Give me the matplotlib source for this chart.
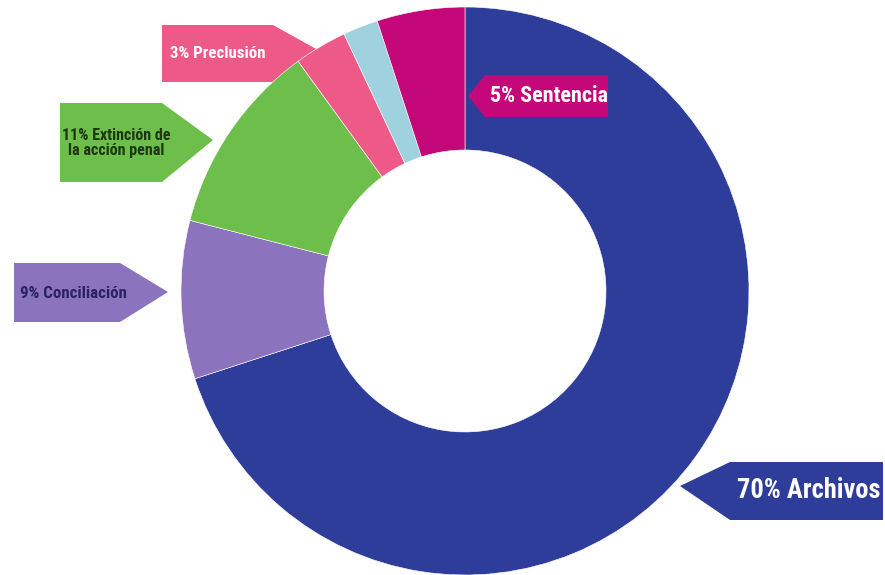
import matplotlib
matplotlib.use("Agg")
import matplotlib.pyplot as plt
from matplotlib import font_manager
from matplotlib.patches import Polygon

# data
categories = ["Archivos", "Conciliación", "Extinción de la acción penal",
              "Preclusión", "Otros", "Sentencia"]
shares = [70, 9, 11, 3, 2, 5]
colors = ["#2E3C9A", "#8B73BE", "#6DBE4B", "#EE5A87", "#9FD2DE", "#C4087A"]

label_texts = ["70% Archivos", "9% Conciliación", "11% Extinción de\nla acción penal",
               "3% Preclusión", None, "5% Sentencia"]
text_colors = ["white", "#2A2360", "#1E3713", "white", None, "white"]

W, H = 885, 575
fig = plt.figure(figsize=(W / 100, H / 100), dpi=100)
ax = fig.add_axes([0, 0, 1, 1])

# donut, in pixel units (y measured from bottom)
cx, cy = 465, H - 291
ax.pie(shares, colors=colors, startangle=90, counterclock=False,
       radius=284, center=(cx, cy),
       wedgeprops=dict(width=143, edgecolor="white", linewidth=0.4))
ax.set_xlim(0, W)
ax.set_ylim(0, H)
ax.set_aspect("equal")
ax.axis("off")

# pick a narrow face if one is installed
names = {f.name for f in font_manager.fontManager.ttflist}
narrow = [n for n in ["Liberation Sans Narrow", "Roboto Condensed",
                      "Open Sans Condensed", "DejaVu Sans Condensed",
                      "Noto Sans Condensed"] if n in names]
FONT = narrow[:1] + ["DejaVu Sans"]
condensed_faces = [f for f in font_manager.fontManager.ttflist
                   if f.name in ("DejaVu Sans", "Noto Sans", "Roboto", "Open Sans")
                   and f.stretch in ("condensed", "semi-condensed", "extra-condensed")]
STRETCH = "condensed" if (not narrow and condensed_faces) else "normal"
if not narrow and condensed_faces:
    FONT = [condensed_faces[0].name, "DejaVu Sans"]

renderer = fig.canvas.get_renderer()


def callout(pts, color, z):
    # pts given in image pixels (y down)
    poly = Polygon([(x, H - y) for x, y in pts], closed=True,
                   facecolor=color, edgecolor="none", zorder=z)
    ax.add_patch(poly)


def label(x, y, text, color, width, max_size):
    t = ax.text(x, H - y, text, color=color, fontsize=max_size, fontweight="bold",
                family=FONT, fontstretch=STRETCH, ha="center", va="center",
                zorder=10, linespacing=1.0)
    w = t.get_window_extent(renderer).width
    if w > width:
        t.set_fontsize(max_size * width / w)


# Preclusión (behind the ring)
callout([(162, 25), (273, 25), (318, 50), (277, 82), (162, 82)], colors[3], 0)
label(218, 54, label_texts[3], text_colors[3], 96, 14)

# Extinción de la acción penal
callout([(60, 103), (162, 103), (213, 140), (162, 182), (60, 182)], colors[2], 5)
label(116, 143, label_texts[2], text_colors[2], 108, 13)

# Conciliación
callout([(14, 263), (120, 263), (168, 292), (120, 322), (14, 322)], colors[1], 5)
label(73, 293, label_texts[1], text_colors[1], 106, 13)

# Sentencia (on top of the ring)
callout([(485, 75), (608, 75), (608, 117), (485, 117), (468, 96)], colors[5], 5)
label(549, 96, label_texts[5], text_colors[5], 118, 17)

# Archivos
callout([(883, 462), (730, 462), (680, 486), (730, 520), (883, 520)], colors[0], 5)
label(809, 491, label_texts[0], text_colors[0], 144, 24)

fig.savefig("out.png", dpi=100, facecolor="white")
